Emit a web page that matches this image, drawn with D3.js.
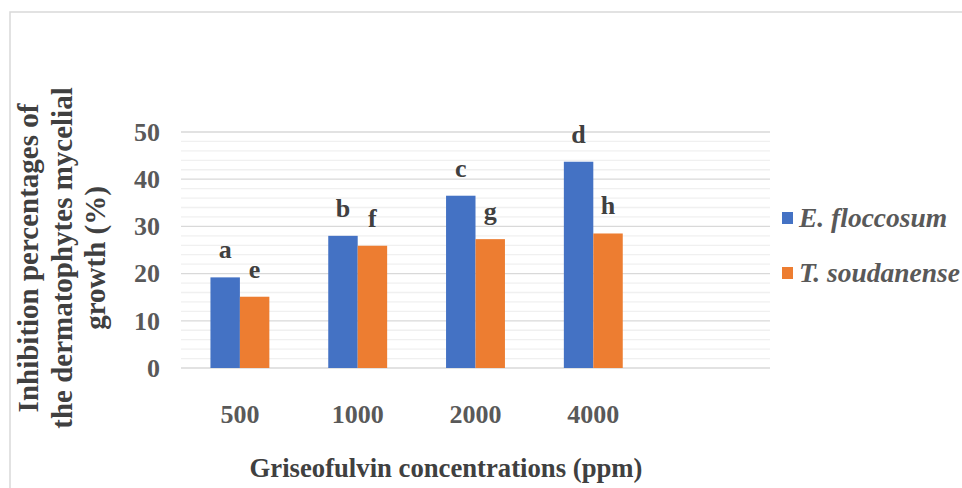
<!DOCTYPE html>
<meta charset="utf-8">
<style>

body {
  margin: 0;
  background: #fff;
}

text {
  font-family: "Liberation Serif", "Times New Roman", serif;
  font-weight: bold;
}

.grid-major {
  stroke: #d9d9d9;
  stroke-width: 1.3;
}

.grid-minor {
  stroke: #f0f0f0;
  stroke-width: 1.3;
}

.tick text {
  fill: #595959;
  font-size: 26px;
}

</style>
<svg width="962" height="488"></svg>
<script src="https://cdn.jsdelivr.net/npm/d3@7"></script>
<script>

var concentrations = ["500", "1000", "2000", "4000"];
var seriesNames = ["E. floccosum", "T. soudanense"];
var eFloccosum = [19.2, 28.0, 36.5, 43.7];
var tSoudanense = [15.1, 25.9, 27.3, 28.5];
var letters = [["a", "b", "c", "d"], ["e", "f", "g", "h"]];
var yTicks = [0, 10, 20, 30, 40, 50];

var svg = d3.select("svg"),
    width = +svg.attr("width"),
    height = +svg.attr("height");

var colors = d3.scaleOrdinal()
    .domain(seriesNames)
    .range(["#4472c4", "#ed7d31"]);

var plotLeft = 181, plotRight = 770;

var x0 = d3.scaleBand()
    .domain(concentrations)
    .range([plotLeft, plotLeft + 4 * 117.8])
    .paddingInner(0.5)
    .paddingOuter(0.25);

var x1 = d3.scaleBand()
    .domain(seriesNames)
    .range([0, x0.bandwidth()]);

var y = d3.scaleLinear()
    .domain([0, 50])
    .range([368, 132]);

// chart frame
svg.append("rect")
    .attr("x", 10)
    .attr("y", 12)
    .attr("width", 970)
    .attr("height", 500)
    .attr("fill", "none")
    .attr("stroke", "#d9d9d9")
    .attr("stroke-width", 1.5);

// gridlines: major every 10, minor every 2
var minor = d3.range(0, 51, 2).filter(function(v) { return v % 10 !== 0; });
svg.append("g").selectAll("line")
    .data(minor)
    .enter().append("line")
    .attr("class", "grid-minor")
    .attr("x1", plotLeft).attr("x2", plotRight)
    .attr("y1", function(d) { return y(d); })
    .attr("y2", function(d) { return y(d); });

svg.append("g").selectAll("line")
    .data(yTicks)
    .enter().append("line")
    .attr("class", "grid-major")
    .attr("x1", plotLeft).attr("x2", plotRight)
    .attr("y1", function(d) { return y(d); })
    .attr("y2", function(d) { return y(d); });

// bars
var rows = concentrations.map(function(c, i) {
  return {conc: c, values: [
    {name: seriesNames[0], value: eFloccosum[i], letter: letters[0][i]},
    {name: seriesNames[1], value: tSoudanense[i], letter: letters[1][i]}
  ]};
});

var groups = svg.append("g")
  .selectAll("g")
  .data(rows)
  .enter().append("g")
    .attr("transform", function(d) { return "translate(" + x0(d.conc) + ",0)"; });

groups.selectAll("rect")
  .data(function(d) { return d.values; })
  .enter().append("rect")
    .attr("x", function(d) { return x1(d.name); })
    .attr("y", function(d) { return y(d.value); })
    .attr("width", x1.bandwidth())
    .attr("height", function(d) { return y(0) - y(d.value); })
    .attr("fill", function(d) { return colors(d.name); });

groups.selectAll("text.letter")
  .data(function(d) { return d.values; })
  .enter().append("text")
    .attr("class", "letter")
    .attr("x", function(d) { return x1(d.name) + x1.bandwidth() / 2; })
    .attr("y", function(d) { return y(d.value) - 19; })
    .attr("text-anchor", "middle")
    .style("font-size", "26px")
    .style("fill", "#404040")
    .text(function(d) { return d.letter; });

// axes
svg.append("g")
    .attr("transform", "translate(160,0)")
    .call(d3.axisLeft(y).tickValues(yTicks).tickSize(0).tickPadding(0))
    .call(function(g) { g.select(".domain").remove(); });

svg.append("g")
    .attr("transform", "translate(0,368)")
    .call(d3.axisBottom(x0).tickSize(0).tickPadding(37))
    .call(function(g) { g.select(".domain").remove(); });

// axis titles
svg.append("text")
    .attr("x", 446)
    .attr("y", 477)
    .attr("text-anchor", "middle")
    .style("font-size", "26.7px")
    .style("fill", "#404040")
    .text("Griseofulvin concentrations (ppm)");

var yTitle = svg.append("text")
    .attr("transform", "translate(38,258) rotate(-90)")
    .attr("text-anchor", "middle")
    .style("font-size", "29px")
    .style("fill", "#404040");
["Inhibition percentages of", "the dermatophytes mycelial", "growth (%)"].forEach(function(line, i) {
  yTitle.append("tspan")
      .attr("x", 0)
      .attr("dy", i === 0 ? 0 : 33.5)
      .text(line);
});

// legend
var legend = svg.append("g")
  .selectAll("g")
  .data(seriesNames)
  .enter().append("g")
    .attr("transform", function(d, i) { return "translate(782," + (227 + i * 55) + ")"; });

legend.append("rect")
    .attr("x", 0)
    .attr("y", -15)
    .attr("width", 11)
    .attr("height", 12)
    .attr("fill", function(d) { return colors(d); });

legend.append("text")
    .attr("x", 17)
    .attr("y", 0)
    .style("font-size", "27.5px")
    .style("font-style", "italic")
    .style("fill", "#595959")
    .text(function(d) { return d; });

</script>
